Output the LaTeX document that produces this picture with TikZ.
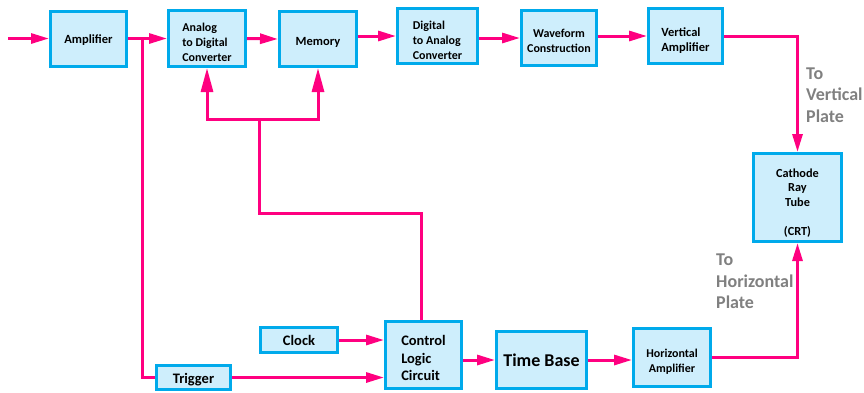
\documentclass[tikz,border=0pt]{standalone}
\usepackage{fontspec}
\setmainfont{Carlito}
\usetikzlibrary{arrows.meta}

\definecolor{boxline}{RGB}{0,170,235}
\definecolor{boxfill}{RGB}{206,238,252}
\definecolor{wire}{RGB}{255,0,128}
\definecolor{note}{RGB}{128,128,128}

% invisible strut on a first line: sets the text a little low in its box
\newcommand{\topgap}[1]{\rule{0pt}{#1}}

\tikzset{
  blk/.style={draw=boxline, fill=boxfill, line width=3pt, inner sep=2pt,
    font=\bfseries\fontsize{12}{15}\selectfont, align=center},
  bigtxt/.style={font=\bfseries\fontsize{14.5}{17.5}\selectfont},
  hugetxt/.style={font=\bfseries\fontsize{18}{22}\selectfont},
  line/.style={draw=wire, line width=3pt},
  arr/.style={line, -{Triangle[length=18pt,width=10pt]}},
  uparr/.style={line, -{Triangle[length=24pt,width=12pt]}},
  plate/.style={text=note, font=\bfseries\fontsize{18}{21.5}\selectfont, align=left, anchor=west, inner sep=0pt},
}

\begin{document}
\begin{tikzpicture}[x=1pt, y=-1pt]
\useasboundingbox (0,0) rectangle (864,392);

% signal path along the top
\node[blk, minimum width=76, minimum height=55, font=\bfseries\fontsize{12.5}{15}\selectfont] (amp)  at (88.5,38.5) {\topgap{11.5pt}Amplifier};
\node[blk, minimum width=77, minimum height=56, align=left] (adc) at (207,38.5) {\topgap{17pt}Analog\\to Digital\\Converter};
\node[blk, minimum width=77, minimum height=55, font=\bfseries\fontsize{12.5}{15}\selectfont] (mem) at (318,39) {\topgap{15pt}Memory};
\node[blk, minimum width=80, minimum height=55, align=left] (dac) at (437.5,36) {\topgap{17pt}Digital\\to Analog\\Converter};
\node[blk, minimum width=75, minimum height=55] (wave) at (559,38) {\topgap{15pt}Waveform\\Construction};
\node[blk, minimum width=74, minimum height=55, align=left, font=\bfseries\fontsize{12.5}{14.5}\selectfont] (vamp) at (685.5,36) {\topgap{17.5pt}Vertical\\Amplifier};

% display tube
\node[blk, minimum width=88, minimum height=88, font=\bfseries\fontsize{12.3}{14.5}\selectfont] (crt) at (797.5,197.5) {\topgap{19pt}Cathode\\Ray\\Tube\\[14.5pt](CRT)};

% timing section along the bottom
\node[blk, bigtxt, minimum width=77, minimum height=25] (clock) at (299,340) {Clock};
\node[blk, bigtxt, minimum width=74, minimum height=24] (trig) at (193.5,377.5) {\topgap{14.5pt}Trigger};
\node[blk, bigtxt, minimum width=76, minimum height=67, align=left] (ctrl) at (423.5,355) {\topgap{16.5pt}Control\\Logic\\Circuit};
\node[blk, hugetxt, minimum width=90, minimum height=57] (tb) at (541.5,360) {Time Base};
\node[blk, minimum width=77, minimum height=58] (hamp) at (672,357.5) {\topgap{17pt}Horizontal\\Amplifier};

% plate labels
\node[plate] (vlab) at (806,95) {To\\Vertical\\Plate};
\node[plate] (hlab) at (716,281.5) {To\\Horizontal\\Plate};

% connectors
\coordinate (in) at (8,38.5);
\coordinate (tap) at (142,38.5);
\coordinate (j1) at (259,213);
\coordinate (j2) at (259,119);

\draw[arr] (in) -- (amp.west);
\draw[arr] (amp.east) -- (adc.west);
\draw[line] (tap) |- (trig.west);
\draw[arr] (adc.east) -- (mem.west);
\draw[arr] (mem.east |- dac.west) -- (dac.west);
\draw[arr] (dac.east |- wave.west) -- (wave.west);
\draw[arr] (wave.east |- vamp.west) -- (vamp.west);
\draw[arr] (vamp.east) -| (crt.north);

\draw[line] ([xshift=-2.5pt]ctrl.north) |- (j1) -- (j2);
\draw[uparr] (j2) -| (adc.south);
\draw[uparr] (j2) -| (mem.south);

\draw[arr] (clock.east) -- (clock.east -| ctrl.west);
\draw[arr] (trig.east) -- (trig.east -| ctrl.west);
\draw[arr] (ctrl.east |- tb.west) -- (tb.west);
\draw[arr] (tb.east) -- (tb.east -| hamp.west);
\draw[arr] (hamp.east) -| (crt.south);
\end{tikzpicture}
\end{document}
